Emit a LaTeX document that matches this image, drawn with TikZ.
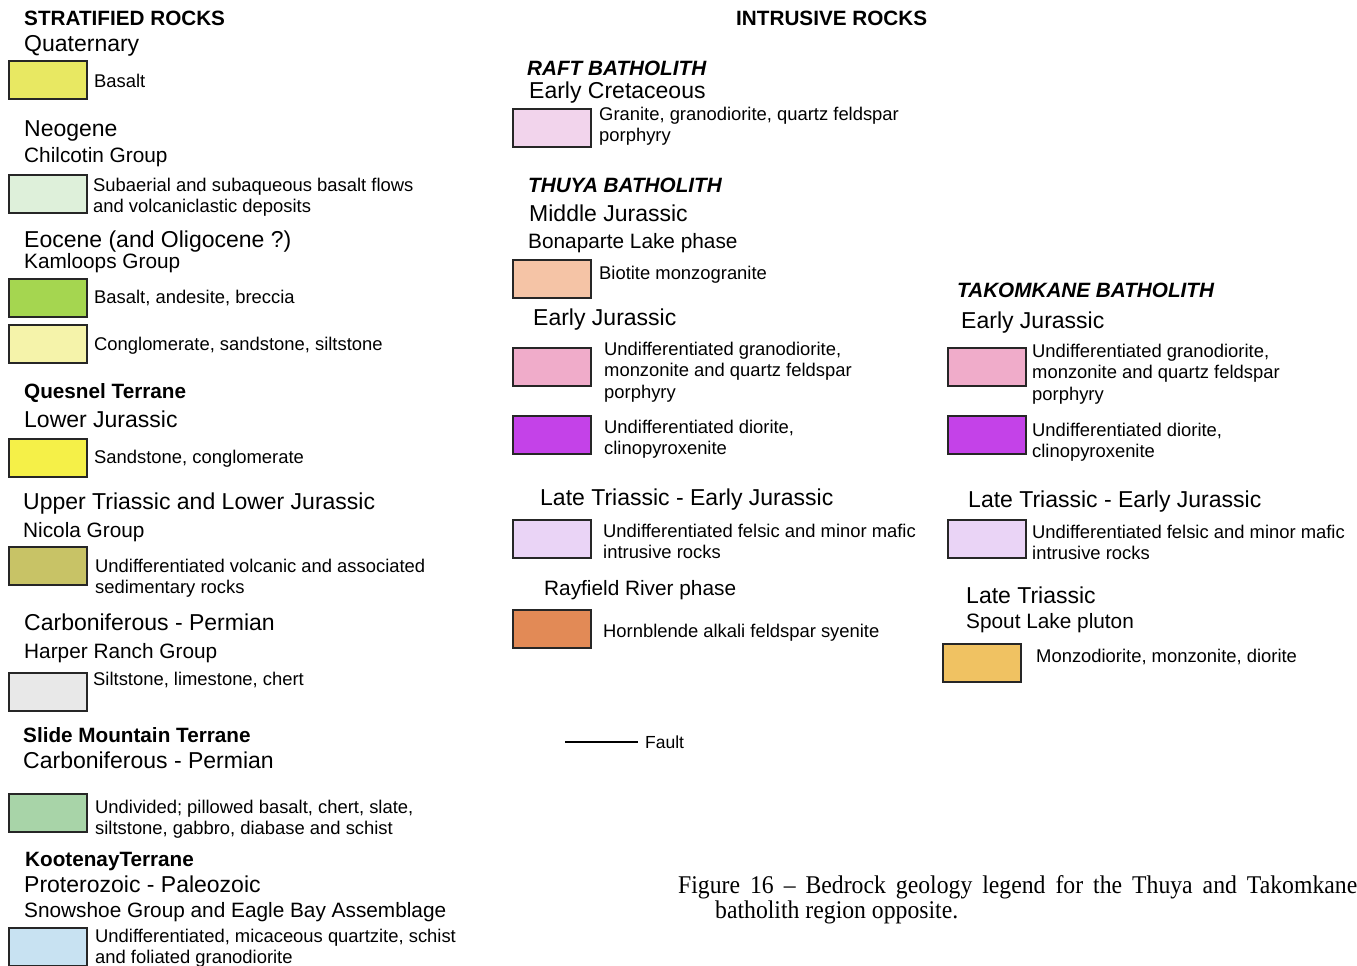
\documentclass[tikz,border=0pt]{standalone}
\usepackage{fontspec}
\setmainfont{Liberation Sans}
\newfontfamily\capfont[FakeStretch=0.93]{Liberation Serif}
\newcommand\twoline[1]{\begin{tabular}[t]{@{}l@{}}#1\end{tabular}}
\definecolor{cQbas}{RGB}{232,232,98}
\definecolor{cChil}{RGB}{222,240,218}
\definecolor{cKbas}{RGB}{165,214,80}
\definecolor{cKcgl}{RGB}{245,243,170}
\definecolor{cQsan}{RGB}{245,240,72}
\definecolor{cNic}{RGB}{200,195,102}
\definecolor{cHarp}{RGB}{232,232,232}
\definecolor{cSlide}{RGB}{168,212,168}
\definecolor{cKoot}{RGB}{200,226,242}
\definecolor{cRaft}{RGB}{242,212,236}
\definecolor{cBona}{RGB}{245,196,166}
\definecolor{cEJpink}{RGB}{240,172,202}
\definecolor{cDior}{RGB}{196,66,232}
\definecolor{cFels}{RGB}{234,212,246}
\definecolor{cRay}{RGB}{226,138,86}
\definecolor{cSpout}{RGB}{240,194,98}
\begin{document}
\begin{tikzpicture}[x=1pt,y=-1pt,
  hd/.style={anchor=base west,inner sep=0pt,font=\fontsize{23}{27}\selectfont},
  sub/.style={anchor=base west,inner sep=0pt,font=\fontsize{20.8}{25}\selectfont},
  bd/.style={anchor=base west,inner sep=0pt,font=\fontsize{20.7}{25}\selectfont\bfseries},
  bi/.style={anchor=base west,inner sep=0pt,font=\fontsize{20.7}{25}\selectfont\bfseries\itshape},
  tx/.style={anchor=base west,inner sep=0pt,font=\fontsize{18.4}{21.5}\selectfont},
  swatch/.style={draw=black!85,line width=2pt,minimum width=78pt,minimum height=38pt,inner sep=0pt}]
\useasboundingbox[fill=white] (0,0) rectangle (1357,966);

% ---------------- Left column ----------------
\node[bd] (strat) at (24,26) {STRATIFIED ROCKS};
\node[hd] (quat) at (24,52) {Quaternary};
\node[swatch,fill=cQbas] (b1) at (48,80) {};
\node[tx] (t1) at (94,87) {Basalt};

\node[hd] (neog) at (24,136) {Neogene};
\node[sub] (chil) at (24,162) {Chilcotin Group};
\node[swatch,fill=cChil] (b2) at (48,194) {};
\node[tx] (t2) at (93,191) {\twoline{Subaerial and subaqueous basalt flows\\and volcaniclastic deposits}};

\node[hd] (eoc) at (24,247) {Eocene (and Oligocene ?)};
\node[sub] (kaml) at (24,268) {Kamloops Group};
\node[swatch,fill=cKbas] (b3) at (48,298) {};
\node[tx] (t3) at (94,303) {Basalt, andesite, breccia};
\node[swatch,fill=cKcgl] (b4) at (48,344) {};
\node[tx] (t4) at (94,350) {Conglomerate, sandstone, siltstone};

\node[bd] (ques) at (24,398) {Quesnel Terrane};
\node[hd] (lowj) at (24,427) {Lower Jurassic};
\node[swatch,fill=cQsan] (b5) at (48,458) {};
\node[tx] (t5) at (94,463) {Sandstone, conglomerate};

\node[hd] (uptr) at (23,509) {Upper Triassic and Lower Jurassic};
\node[sub] (nic) at (23,537) {Nicola Group};
\node[swatch,fill=cNic] (b6) at (48,566) {};
\node[tx] (t6) at (95,572) {\twoline{Undifferentiated volcanic and associated\\sedimentary rocks}};

\node[hd] (carb1) at (24,630) {Carboniferous - Permian};
\node[sub] (harp) at (24,658) {Harper Ranch Group};
\node[swatch,fill=cHarp] (b7) at (48,692) {};
\node[tx] (t7) at (93,685) {Siltstone, limestone, chert};

\node[bd] (slide) at (23,742) {Slide Mountain Terrane};
\node[hd] (carb2) at (23,768) {Carboniferous - Permian};
\node[swatch,fill=cSlide] (b8) at (48,813) {};
\node[tx] (t8) at (95,813) {\twoline{Undivided; pillowed basalt, chert, slate,\\siltstone, gabbro, diabase and schist}};

\node[bd] (koot) at (25,866) {KootenayTerrane};
\node[hd] (prot) at (24,892) {Proterozoic - Paleozoic};
\node[sub] (snow) at (24,917) {Snowshoe Group and Eagle Bay Assemblage};
\node[swatch,fill=cKoot] (b9) at (48,947) {};
\node[tx] (t9) at (95,942) {\twoline{Undifferentiated, micaceous quartzite, schist\\and foliated granodiorite}};

% ---------------- Middle column ----------------
\node[bd] (intr) at (736,26) {INTRUSIVE ROCKS};
\node[bi] (raft) at (527,76) {RAFT BATHOLITH};
\node[hd] (ecre) at (529,98) {Early Cretaceous};
\node[swatch,fill=cRaft] (m1) at (552,128) {};
\node[tx] (u1) at (599,120) {\twoline{Granite, granodiorite, quartz feldspar\\porphyry}};

\node[bi] (thuya) at (528,192) {THUYA BATHOLITH};
\node[hd] (midj) at (529,221) {Middle Jurassic};
\node[sub] (bona) at (528,248) {Bonaparte Lake phase};
\node[swatch,fill=cBona] (m2) at (552,279) {};
\node[tx] (u2) at (599,279) {Biotite monzogranite};

\node[hd] (earj1) at (533,325) {Early Jurassic};
\node[swatch,fill=cEJpink] (m3) at (552,367) {};
\node[tx] (u3) at (604,355) {\twoline{Undifferentiated granodiorite,\\monzonite and quartz feldspar\\porphyry}};
\node[swatch,fill=cDior] (m4) at (552,435) {};
\node[tx] (u4) at (604,433) {\twoline{Undifferentiated diorite,\\clinopyroxenite}};

\node[hd] (ltej1) at (540,505) {Late Triassic - Early Jurassic};
\node[swatch,fill=cFels] (m5) at (552,539) {};
\node[tx] (u5) at (603,537) {\twoline{Undifferentiated felsic and minor mafic\\intrusive rocks}};

\node[sub] (rayf) at (544,595) {Rayfield River phase};
\node[swatch,fill=cRay] (m6) at (552,629) {};
\node[tx] (u6) at (603,637) {Hornblende alkali feldspar syenite};

\coordinate (f1) at (565,742);
\coordinate (f2) at (638,742);
\draw[line width=2pt] (f1) -- (f2);
\node[anchor=base west,inner sep=0pt,font=\fontsize{17.5}{20}\selectfont] (fault) at (645,748) {Fault};

% ---------------- Right column ----------------
\node[bi] (tako) at (957,297) {TAKOMKANE BATHOLITH};
\node[hd] (earj2) at (961,328) {Early Jurassic};
\node[swatch,fill=cEJpink] (r1) at (987,367) {};
\node[tx] (v1) at (1032,357) {\twoline{Undifferentiated granodiorite,\\monzonite and quartz feldspar\\porphyry}};
\node[swatch,fill=cDior] (r2) at (987,435) {};
\node[tx] (v2) at (1032,436) {\twoline{Undifferentiated diorite,\\clinopyroxenite}};

\node[hd] (ltej2) at (968,507) {Late Triassic - Early Jurassic};
\node[swatch,fill=cFels] (r3) at (987,539) {};
\node[tx] (v3) at (1032,538) {\twoline{Undifferentiated felsic and minor mafic\\intrusive rocks}};

\node[hd] (ltri) at (966,603) {Late Triassic};
\node[sub] (spout) at (966,628) {Spout Lake pluton};
\node[swatch,fill=cSpout] (r4) at (982,663) {};
\node[tx] (v4) at (1036,662) {Monzodiorite, monzonite, diorite};

% ---------------- Caption ----------------
\node[anchor=base west,inner sep=0pt,font=\capfont\fontsize{25.5}{30}\selectfont] (cap1) at (678,893)
  {\makebox[679pt][s]{Figure 16 – Bedrock geology legend for the Thuya and Takomkane}};
\node[anchor=base west,inner sep=0pt,font=\capfont\fontsize{25.5}{30}\selectfont] (cap2) at (715,918)
  {batholith region opposite.};
\end{tikzpicture}
\end{document}
